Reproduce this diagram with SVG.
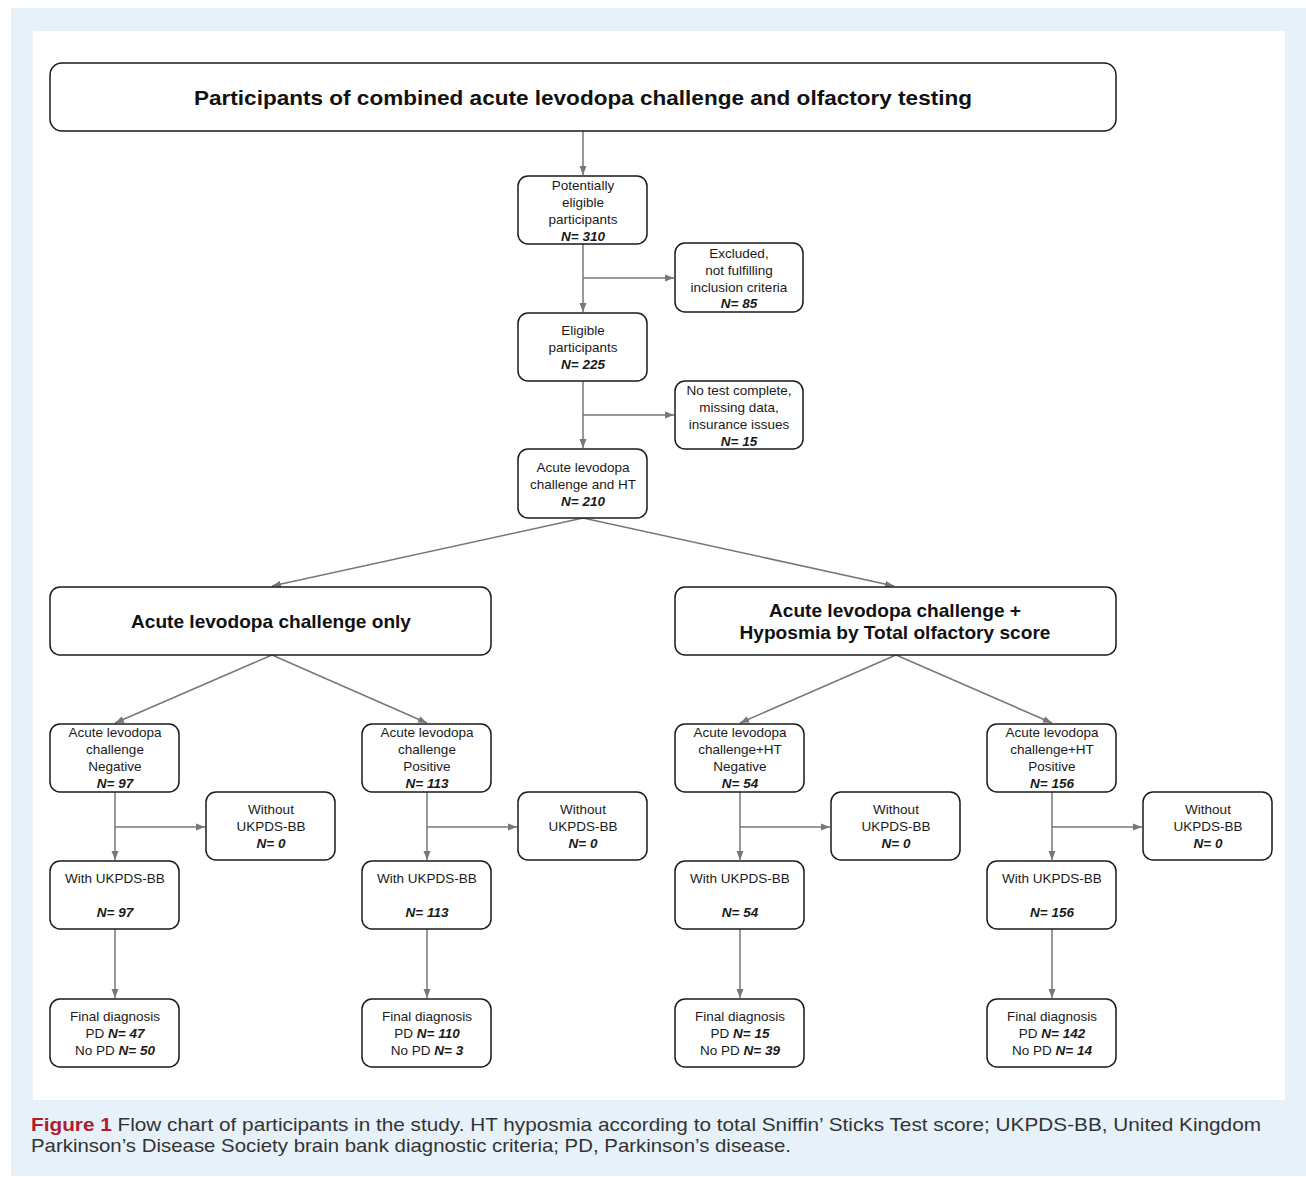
<svg xmlns="http://www.w3.org/2000/svg" width="1306" height="1177" viewBox="0 0 1306 1177">
<style>
.box{fill:#fff;stroke:#1a1a1a;stroke-width:1.5}
.t{font-family:"Liberation Sans",Arial,sans-serif;font-size:13.5px;fill:#1a1a1a;text-anchor:middle}
.n{font-weight:bold;font-style:italic}
.h{font-family:"Liberation Sans",Arial,sans-serif;font-weight:bold;fill:#111;text-anchor:middle}
.c{stroke:#777;stroke-width:1.5;fill:none}
.cap{font-family:"Liberation Sans",Arial,sans-serif;font-size:19px;fill:#333}
</style>
<defs>
<marker id="a" markerWidth="10" markerHeight="8" refX="9" refY="4" orient="auto" markerUnits="userSpaceOnUse">
<path d="M0,0.5 L9,4 L0,7.5 Z" fill="#777"/>
</marker>
</defs>
<rect x="0" y="0" width="1306" height="1177" fill="#fff"/>
<rect x="11" y="8" width="1295" height="1168" fill="#e7f1fa"/>
<rect x="33" y="31" width="1252" height="1069" fill="#fff"/>

<g id="connectors">
<path class="c" d="M583,131 V175" marker-end="url(#a)"/>
<path class="c" d="M583,244 V312" marker-end="url(#a)"/>
<path class="c" d="M583,278 H674" marker-end="url(#a)"/>
<path class="c" d="M583,381 V448" marker-end="url(#a)"/>
<path class="c" d="M583,415 H674" marker-end="url(#a)"/>
<path class="c" d="M583,518 L272,586" marker-end="url(#a)"/>
<path class="c" d="M583,518 L894,586" marker-end="url(#a)"/>
<path class="c" d="M272,655 L115,723" marker-end="url(#a)"/>
<path class="c" d="M272,655 L427,723" marker-end="url(#a)"/>
<path class="c" d="M896,655 L740,723" marker-end="url(#a)"/>
<path class="c" d="M896,655 L1052,723" marker-end="url(#a)"/>
<path class="c" d="M115,792 V860" marker-end="url(#a)"/>
<path class="c" d="M115,827 H205" marker-end="url(#a)"/>
<path class="c" d="M115,929 V998" marker-end="url(#a)"/>
<path class="c" d="M427,792 V860" marker-end="url(#a)"/>
<path class="c" d="M427,827 H517" marker-end="url(#a)"/>
<path class="c" d="M427,929 V998" marker-end="url(#a)"/>
<path class="c" d="M740,792 V860" marker-end="url(#a)"/>
<path class="c" d="M740,827 H830" marker-end="url(#a)"/>
<path class="c" d="M740,929 V998" marker-end="url(#a)"/>
<path class="c" d="M1052,792 V860" marker-end="url(#a)"/>
<path class="c" d="M1052,827 H1142" marker-end="url(#a)"/>
<path class="c" d="M1052,929 V998" marker-end="url(#a)"/>
</g>

<g id="n-top">
<rect class="box" x="50" y="63" width="1066" height="68" rx="12"/>
<text class="h" x="583" y="105" font-size="21" textLength="778" lengthAdjust="spacingAndGlyphs">Participants of combined acute levodopa challenge and olfactory testing</text>
</g>
<g id="n-potential">
<rect class="box" x="518" y="176" width="129" height="68" rx="10"/>
<text class="t" x="583" y="190">Potentially</text>
<text class="t" x="583" y="207">eligible</text>
<text class="t" x="583" y="224">participants</text>
<text class="t n" x="583" y="241">N= 310</text>
</g>
<g id="n-excluded">
<rect class="box" x="675" y="243" width="128" height="69" rx="10"/>
<text class="t" x="739" y="258">Excluded,</text>
<text class="t" x="739" y="275">not fulfilling</text>
<text class="t" x="739" y="292">inclusion criteria</text>
<text class="t n" x="739" y="308">N= 85</text>
</g>
<g id="n-eligible">
<rect class="box" x="518" y="313" width="129" height="68" rx="10"/>
<text class="t" x="583" y="335">Eligible</text>
<text class="t" x="583" y="352">participants</text>
<text class="t n" x="583" y="369">N= 225</text>
</g>
<g id="n-notest">
<rect class="box" x="675" y="381" width="128" height="68" rx="10"/>
<text class="t" x="739" y="395">No test complete,</text>
<text class="t" x="739" y="412">missing data,</text>
<text class="t" x="739" y="429">insurance issues</text>
<text class="t n" x="739" y="446">N= 15</text>
</g>
<g id="n-alcht">
<rect class="box" x="518" y="449" width="129" height="69" rx="10"/>
<text class="t" x="583" y="472">Acute levodopa</text>
<text class="t" x="583" y="489">challenge and HT</text>
<text class="t n" x="583" y="506">N= 210</text>
</g>
<g id="n-alconly">
<rect class="box" x="50" y="587" width="441" height="68" rx="10"/>
<text class="h" x="271" y="628" font-size="18.5" textLength="280" lengthAdjust="spacingAndGlyphs">Acute levodopa challenge only</text>
</g>
<g id="n-alchypo">
<rect class="box" x="675" y="587" width="441" height="68" rx="10"/>
<text class="h" x="895" y="617" font-size="18.5" textLength="252" lengthAdjust="spacingAndGlyphs">Acute levodopa challenge +</text>
<text class="h" x="895" y="639" font-size="18.5" textLength="311" lengthAdjust="spacingAndGlyphs">Hyposmia by Total olfactory score</text>
</g>

<g id="n-neg1">
<rect class="box" x="50" y="724" width="129" height="68" rx="10"/>
<text class="t" x="115" y="737">Acute levodopa</text>
<text class="t" x="115" y="754">challenge</text>
<text class="t" x="115" y="771">Negative</text>
<text class="t n" x="115" y="788">N= 97</text>
</g>
<g id="n-pos1">
<rect class="box" x="362" y="724" width="129" height="68" rx="10"/>
<text class="t" x="427" y="737">Acute levodopa</text>
<text class="t" x="427" y="754">challenge</text>
<text class="t" x="427" y="771">Positive</text>
<text class="t n" x="427" y="788">N= 113</text>
</g>
<g id="n-neg2">
<rect class="box" x="675" y="724" width="129" height="68" rx="10"/>
<text class="t" x="740" y="737">Acute levodopa</text>
<text class="t" x="740" y="754">challenge+HT</text>
<text class="t" x="740" y="771">Negative</text>
<text class="t n" x="740" y="788">N= 54</text>
</g>
<g id="n-pos2">
<rect class="box" x="987" y="724" width="129" height="68" rx="10"/>
<text class="t" x="1052" y="737">Acute levodopa</text>
<text class="t" x="1052" y="754">challenge+HT</text>
<text class="t" x="1052" y="771">Positive</text>
<text class="t n" x="1052" y="788">N= 156</text>
</g>

<g id="n-wo1">
<rect class="box" x="206" y="792" width="129" height="68" rx="10"/>
<text class="t" x="271" y="814">Without</text>
<text class="t" x="271" y="831">UKPDS-BB</text>
<text class="t n" x="271" y="848">N= 0</text>
</g>
<g id="n-wo2">
<rect class="box" x="518" y="792" width="129" height="68" rx="10"/>
<text class="t" x="583" y="814">Without</text>
<text class="t" x="583" y="831">UKPDS-BB</text>
<text class="t n" x="583" y="848">N= 0</text>
</g>
<g id="n-wo3">
<rect class="box" x="831" y="792" width="129" height="68" rx="10"/>
<text class="t" x="896" y="814">Without</text>
<text class="t" x="896" y="831">UKPDS-BB</text>
<text class="t n" x="896" y="848">N= 0</text>
</g>
<g id="n-wo4">
<rect class="box" x="1143" y="792" width="129" height="68" rx="10"/>
<text class="t" x="1208" y="814">Without</text>
<text class="t" x="1208" y="831">UKPDS-BB</text>
<text class="t n" x="1208" y="848">N= 0</text>
</g>

<g id="n-w1">
<rect class="box" x="50" y="861" width="129" height="68" rx="10"/>
<text class="t" x="115" y="883">With UKPDS-BB</text>
<text class="t n" x="115" y="917">N= 97</text>
</g>
<g id="n-w2">
<rect class="box" x="362" y="861" width="129" height="68" rx="10"/>
<text class="t" x="427" y="883">With UKPDS-BB</text>
<text class="t n" x="427" y="917">N= 113</text>
</g>
<g id="n-w3">
<rect class="box" x="675" y="861" width="129" height="68" rx="10"/>
<text class="t" x="740" y="883">With UKPDS-BB</text>
<text class="t n" x="740" y="917">N= 54</text>
</g>
<g id="n-w4">
<rect class="box" x="987" y="861" width="129" height="68" rx="10"/>
<text class="t" x="1052" y="883">With UKPDS-BB</text>
<text class="t n" x="1052" y="917">N= 156</text>
</g>

<g id="n-f1">
<rect class="box" x="50" y="999" width="129" height="68" rx="10"/>
<text class="t" x="115" y="1021">Final diagnosis</text>
<text class="t" x="115" y="1038">PD <tspan class="n">N= 47</tspan></text>
<text class="t" x="115" y="1055">No PD <tspan class="n">N= 50</tspan></text>
</g>
<g id="n-f2">
<rect class="box" x="362" y="999" width="129" height="68" rx="10"/>
<text class="t" x="427" y="1021">Final diagnosis</text>
<text class="t" x="427" y="1038">PD <tspan class="n">N= 110</tspan></text>
<text class="t" x="427" y="1055">No PD <tspan class="n">N= 3</tspan></text>
</g>
<g id="n-f3">
<rect class="box" x="675" y="999" width="129" height="68" rx="10"/>
<text class="t" x="740" y="1021">Final diagnosis</text>
<text class="t" x="740" y="1038">PD <tspan class="n">N= 15</tspan></text>
<text class="t" x="740" y="1055">No PD <tspan class="n">N= 39</tspan></text>
</g>
<g id="n-f4">
<rect class="box" x="987" y="999" width="129" height="68" rx="10"/>
<text class="t" x="1052" y="1021">Final diagnosis</text>
<text class="t" x="1052" y="1038">PD <tspan class="n">N= 142</tspan></text>
<text class="t" x="1052" y="1055">No PD <tspan class="n">N= 14</tspan></text>
</g>

<g id="caption">
<text class="cap" x="31" y="1131" textLength="1230" lengthAdjust="spacingAndGlyphs"><tspan fill="#b01c2e" font-weight="bold">Figure 1</tspan> Flow chart of participants in the study. HT hyposmia according to total Sniffin’ Sticks Test score; UKPDS-BB, United Kingdom</text>
<text class="cap" x="31" y="1152" textLength="760" lengthAdjust="spacingAndGlyphs">Parkinson’s Disease Society brain bank diagnostic criteria; PD, Parkinson’s disease.</text>
</g>
</svg>
